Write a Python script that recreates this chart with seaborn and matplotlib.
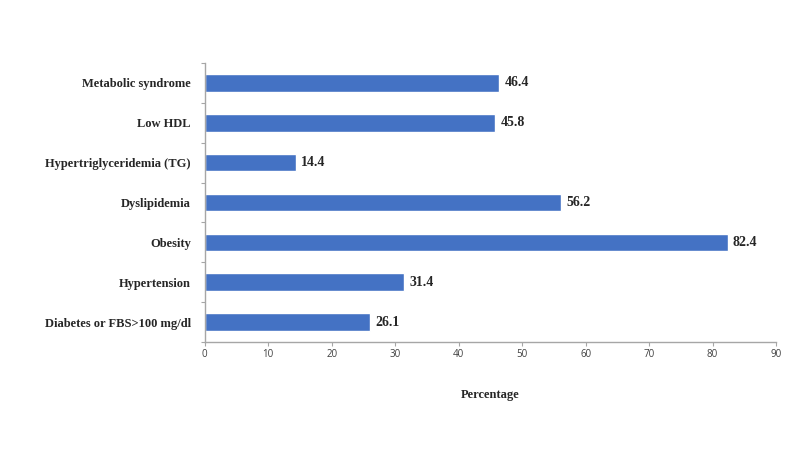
import matplotlib

matplotlib.use("Agg")
import matplotlib.pyplot as plt
import pandas as pd
import seaborn as sns
from matplotlib.ticker import FixedLocator, MultipleLocator

categories = [
    "Metabolic syndrome",
    "Low HDL",
    "Hypertriglyceridemia (TG)",
    "Dyslipidemia",
    "Obesity",
    "Hypertension",
    "Diabetes or FBS>100 mg/dl",
]
percentages = [46.4, 45.8, 14.4, 56.2, 82.4, 31.4, 26.1]

BAR_COLOR = "#4472C4"
SPINE_COLOR = "#A6A6A6"
SERIF = ["Liberation Serif", "DejaVu Serif"]

df = pd.DataFrame({"category": categories, "pct": percentages})

sns.set_style("white")

fig = plt.figure(figsize=(8, 4.5), dpi=100)
ax = fig.add_axes([0.256, 0.24, 0.714, 0.62])

sns.barplot(data=df, x="pct", y="category", orient="h", order=categories,
            color=BAR_COLOR, saturation=1, width=0.44, ax=ax)

for patch, val in zip(ax.patches, percentages):
    y = patch.get_y() + patch.get_height() / 2
    ax.text(patch.get_width() + 0.8, y, f"{val:.1f}", va="center",
            ha="left", fontsize=10, fontweight="bold", family=SERIF)

ax.set_xlim(0, 90)
ax.set_ylim(len(categories) - 0.5, -0.5)
ax.xaxis.set_major_locator(MultipleLocator(10))
ax.tick_params(axis="x", length=3, width=0.8, color=SPINE_COLOR,
               labelsize=7, pad=2, direction="out", bottom=True)
for lbl in ax.get_xticklabels():
    lbl.set_family(["Open Sans", "DejaVu Sans"])
    lbl.set_color("#404040")

ax.tick_params(axis="y", which="major", length=0, pad=10)
ax.yaxis.set_minor_locator(FixedLocator(
    [i - 0.5 for i in range(len(categories) + 1)]))
ax.tick_params(axis="y", which="minor", length=3, width=0.8,
               color=SPINE_COLOR, direction="out", left=True)
for lbl in ax.get_yticklabels():
    lbl.set_family(SERIF)
    lbl.set_fontweight("bold")
    lbl.set_fontsize(9)

ax.set_ylabel("")
ax.set_xlabel("Percentage", fontsize=9, fontweight="bold", family=SERIF,
              labelpad=21)

for side in ("top", "right"):
    ax.spines[side].set_visible(False)
for side in ("left", "bottom"):
    ax.spines[side].set_color(SPINE_COLOR)
    ax.spines[side].set_linewidth(1)

fig.savefig("out.png", dpi=100)
